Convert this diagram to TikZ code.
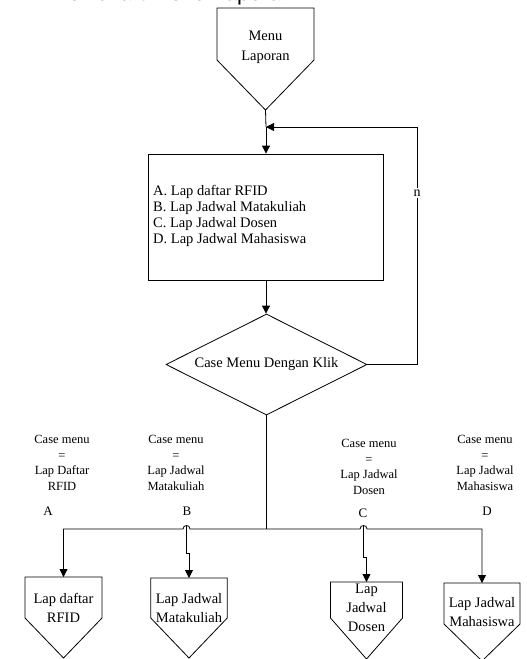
\documentclass[tikz,border=0pt]{standalone}
\usepackage{fontspec}
\setmainfont{Liberation Serif}
\newfontfamily\headfont{Liberation Sans}
\usetikzlibrary{arrows.meta,shapes.geometric}

% off-page connector: name, centre x, half width, top y, side y, tip y
\newcommand\opgshape[6]{%
  \coordinate (#1) at (#2,#4);
  \coordinate (#1-tip) at (#2,#6);
  \draw[line] (#2-#3,#4) -- (#2+#3,#4) -- (#2+#3,#5) -- (#2,#6) -- (#2-#3,#5) -- cycle;}

\begin{document}
\begin{tikzpicture}[x=1pt,y=-1pt,
  line/.style={draw=black,line width=0.8pt},
  arr/.style={line,-{Triangle[length=8pt,width=8pt]}},
  boxtext/.style={font=\fontsize{14.5}{16}\selectfont,align=left,inner sep=0pt},
  shapetext/.style={font=\fontsize{14.5}{18.5}\selectfont,align=center,inner sep=0pt},
  casetext/.style={font=\fontsize{12.5}{15.5}\selectfont,align=center,inner sep=0pt},
  tag/.style={font=\fontsize{13}{13}\selectfont,inner sep=0pt}]
\useasboundingbox (0,0) rectangle (527,659);

% heading, mostly above the page edge
\node[anchor=base west,inner sep=0pt,font=\headfont\fontsize{22}{22}\selectfont] (head) at (50,0.1) {Flowchart Menu Laporan};

% start connector
\opgshape{start}{265.5}{48.5}{8}{60}{110}
\node[shapetext,font=\fontsize{14.5}{20}\selectfont] (starttext) at (265.5,47) {Menu\\Laporan};

% menu box
\node[line,minimum width=235,minimum height=126,inner sep=0pt] (menu) at (266,217) {};
\node[boxtext,anchor=west] (menutext) at (153,215.5)
  {A. Lap daftar RFID\\B. Lap Jadwal Matakuliah\\C. Lap Jadwal Dosen\\D. Lap Jadwal Mahasiswa};

% decision
\node[diamond,line,minimum width=201,minimum height=101,inner sep=0pt] (case) at (266.5,364.5) {};
\node[font=\fontsize{14.5}{16}\selectfont,inner sep=0pt] (casetext) at (case) {Case Menu Dengan Klik};

% main flow
\coordinate (join) at (266,127);
\draw[line] (start-tip) -- (join);
\draw[arr] (join) -- (menu.north);
\draw[arr] (menu.south) -- (menu.south |- case.north);

% loop back
\coordinate (loopa) at (417,364.5);
\coordinate (loopb) at (417,127);
\draw[arr] (case.east) -- (loopa) -- (loopb) -- (join);
\node[fill=white,inner sep=1.5pt,font=\fontsize{14}{14}\selectfont] (nlabel) at (417,193) {n};

% branch bus
\coordinate (bus) at (266.5,529);
\coordinate (hopB) at (186.5,525.5);
\coordinate (hopC) at (363.5,525.5);
\draw[line] (case.south) -- (bus);

% targets
\opgshape{offA}{63.5}{38.5}{577}{618}{658}
\opgshape{offB}{189}{38.25}{578}{618}{658}
\opgshape{offC}{366.5}{36}{582}{618}{659}
\opgshape{offD}{482}{38}{583}{624}{661}

\draw[arr] (bus) -- (190,529) .. controls (190,524.33) and (183,524.33) .. (183,529) -- (63.5,529) -- (offA);
\draw[arr] (bus) -- (360,529) .. controls (360,524.33) and (367,524.33) .. (367,529) -- (482,529) -- (offD);
\draw[arr] (hopB) -- (186.5,553) -- (189,553) -- (offB);
\draw[arr] (hopC) -- (363.5,557) -- (366.5,557) -- (offC);

\node[shapetext] (textA) at (63.5,608) {Lap daftar\\RFID};
\node[shapetext] (textB) at (189,608) {Lap Jadwal\\Matakuliah};
\node[shapetext,font=\fontsize{14.5}{19}\selectfont] (textC) at (366.5,608) {Lap\\Jadwal\\Dosen};
\node[shapetext] (textD) at (482,612) {Lap Jadwal\\Mahasiswa};

% case captions
\node[casetext] (capA) at (62,463) {Case menu\\=\\Lap Daftar\\RFID};
\node[casetext] (capB) at (176,463) {Case menu\\=\\Lap Jadwal\\Matakuliah};
\node[casetext] (capC) at (369,467) {Case menu\\=\\Lap Jadwal\\Dosen};
\node[casetext] (capD) at (485,463) {Case menu\\=\\Lap Jadwal\\Mahasiswa};

\node[tag] (tagA) at (48,511) {A};
\node[tag] (tagB) at (187,511) {B};
\node[tag] (tagC) at (363,513) {C};
\node[tag] (tagD) at (487,511) {D};
\end{tikzpicture}
\end{document}
